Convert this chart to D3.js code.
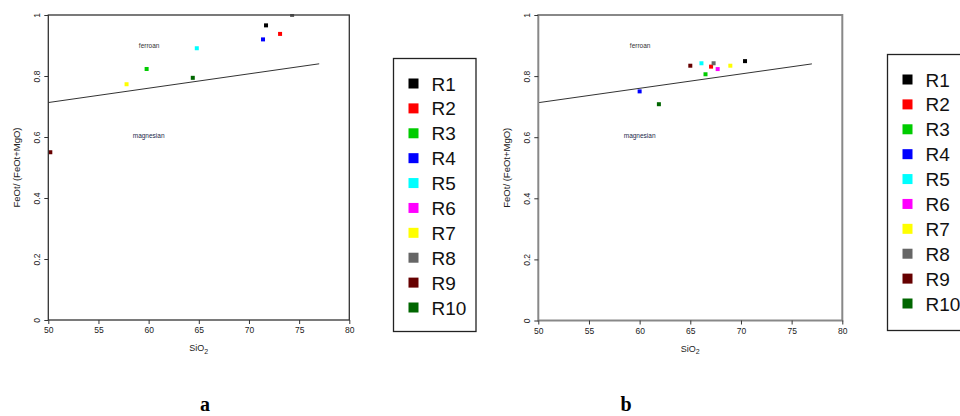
<!DOCTYPE html>
<html><head><meta charset="utf-8">
<script src="https://cdnjs.cloudflare.com/ajax/libs/d3/7.8.5/d3.min.js"></script>
<style>body{margin:0;background:#fff;}svg{display:block;}</style>
</head><body><svg id="c" width="960" height="416"></svg>
<script>
const series = ["R1","R2","R3","R4","R5","R6","R7","R8","R9","R10"];
const colors = ["#000000","#ff0000","#00cc00","#0000ff","#00ffff","#ff00ff","#ffff00","#666666","#660000","#006600"];
// panel a values (null = not plotted in view)
const sioA = [71.7, 73.1, 59.8, 71.4, 64.8, null, 57.8, 74.3, 50.2, 64.4];
const feA  = [0.966, 0.938, 0.823, 0.92, 0.891, null, 0.773, 1.0, 0.55, 0.794];
// panel b values
const sioB = [70.4, 67.05, 66.5, 60.0, 66.1, 67.7, 68.95, 67.3, 65.0, 61.9];
const feB  = [0.849, 0.831, 0.806, 0.75, 0.842, 0.823, 0.834, 0.842, 0.834, 0.708];
// ferroan / magnesian boundary
const boundaryX = [50, 77];
const boundaryY = [0.713, 0.84];
const xTicks = [50,55,60,65,70,75,80];
const yTicks = [0,0.2,0.4,0.6,0.8,1];
const yTickLabels = ["0","0.2","0.4","0.6","0.8","1"];

const svg = d3.select("#c");

function panel(cfg){
  const g = svg.append("g");
  const x = d3.scaleLinear().domain([50,80]).range([cfg.x0, cfg.x1]);
  const y = d3.scaleLinear().domain([0,1]).range([cfg.y1, cfg.y0]);
  const font = "Liberation Sans, Arial, sans-serif";
  const cid = "clip"+cfg.id;
  svg.append("clipPath").attr("id",cid).append("rect")
    .attr("x",cfg.x0).attr("y",cfg.y0-1).attr("width",cfg.x1-cfg.x0).attr("height",cfg.y1-cfg.y0+1);
  g.append("path").datum(boundaryX.map((d,i)=>[d,boundaryY[i]]))
    .attr("d", d3.line().x(d=>x(d[0])).y(d=>y(d[1])))
    .attr("fill","none").attr("stroke","#333").attr("stroke-width",1);
  g.append("text").attr("x",x(60.05)).attr("y",y(0.893)).attr("text-anchor","middle")
    .attr("font-family",font).attr("font-size",6.5).attr("fill","#333").text("ferroan");
  g.append("text").attr("x",x(60)).attr("y",y(0.597)).attr("text-anchor","middle")
    .attr("font-family",font).attr("font-size",6.5).attr("fill","#1a2a4a").text("magnesian");
  const pts = series.map((s,i)=>({c:colors[i], x:cfg.sx[i], y:cfg.fy[i]})).filter(d=>d.x!=null);
  g.append("g").attr("clip-path","url(#"+cid+")").selectAll("rect").data(pts).join("rect")
    .attr("x",d=>x(d.x)-2).attr("y",d=>y(d.y)-2).attr("width",4).attr("height",4).attr("fill",d=>d.c);
  g.append("rect").attr("x",cfg.x0).attr("y",cfg.y0).attr("width",cfg.x1-cfg.x0).attr("height",cfg.y1-cfg.y0)
    .attr("fill","none").attr("stroke",cfg.frame).attr("stroke-width",cfg.fw);
  const ax = g.append("g").attr("transform","translate(0,"+cfg.y1+")")
    .call(d3.axisBottom(x).tickValues(xTicks).tickSize(4).tickPadding(3).tickFormat(d3.format("d")));
  ax.select(".domain").remove();
  ax.selectAll("line").attr("stroke","#333");
  ax.selectAll("text").attr("font-family",font).attr("font-size",8.5).attr("fill","#222");
  const ay = g.append("g").attr("transform","translate("+cfg.x0+",0)")
    .call(d3.axisLeft(y).tickValues(yTicks).tickSize(4).tickFormat((d,i)=>yTickLabels[i]));
  ay.select(".domain").remove();
  ay.selectAll("line").attr("stroke","#333");
  ay.selectAll("text").attr("font-family",font).attr("font-size",8.5).attr("fill","#222")
    .attr("transform","rotate(-90)").attr("x",0).attr("y",-8).attr("dy",0).attr("text-anchor","middle");
  const xl = g.append("text").attr("x",(cfg.x0+cfg.x1)/2).attr("y",cfg.y1+31).attr("text-anchor","middle")
    .attr("font-family",font).attr("font-size",9).attr("fill","#222");
  xl.append("tspan").text("SiO");
  xl.append("tspan").attr("dy",2.5).attr("font-size",7).text("2");
  g.append("text").attr("transform","translate("+(cfg.x0-28)+","+((cfg.y0+cfg.y1)/2)+") rotate(-90)")
    .attr("text-anchor","middle").attr("font-family",font).attr("font-size",9.5).attr("fill","#222")
    .text("FeOt/ (FeOt+MgO)");
  const lg = g.append("g");
  lg.append("rect").attr("x",cfg.lx).attr("y",cfg.ly).attr("width",cfg.lw).attr("height",cfg.lh)
    .attr("fill","#fff").attr("stroke","#222").attr("stroke-width",1.3);
  const ly = d3.scalePoint().domain(series).range([cfg.ly+25, cfg.ly+249]);
  lg.selectAll(".sw").data(series).join("rect").attr("class","sw")
    .attr("x",cfg.lx+15).attr("y",s=>ly(s)-5).attr("width",10).attr("height",10)
    .attr("fill",(s,i)=>colors[i]);
  lg.selectAll(".lt").data(series).join("text").attr("class","lt")
    .attr("x",cfg.lx+38).attr("y",s=>ly(s)+7).attr("font-family",font).attr("font-size",19)
    .attr("fill","#111").text(s=>s);
  svg.append("text").attr("x",cfg.letterX).attr("y",411).attr("text-anchor","middle")
    .attr("font-family","Liberation Serif, Times New Roman, serif").attr("font-weight","bold")
    .attr("font-size",20).attr("fill","#000").text(cfg.letter);
}

panel({id:"a", x0:48.3, x1:349.3, y0:15, y1:320, sx:sioA, fy:feA, frame:"#333", fw:1.3,
  lx:393.5, ly:58.5, lw:82.5, lh:273, letter:"a", letterX:205});
panel({id:"b", x0:538.3, x1:842.3, y0:15, y1:320.5, sx:sioB, fy:feB, frame:"#888", fw:2,
  lx:887.5, ly:54.5, lw:90, lh:276, letter:"b", letterX:626});
</script></body></html>
